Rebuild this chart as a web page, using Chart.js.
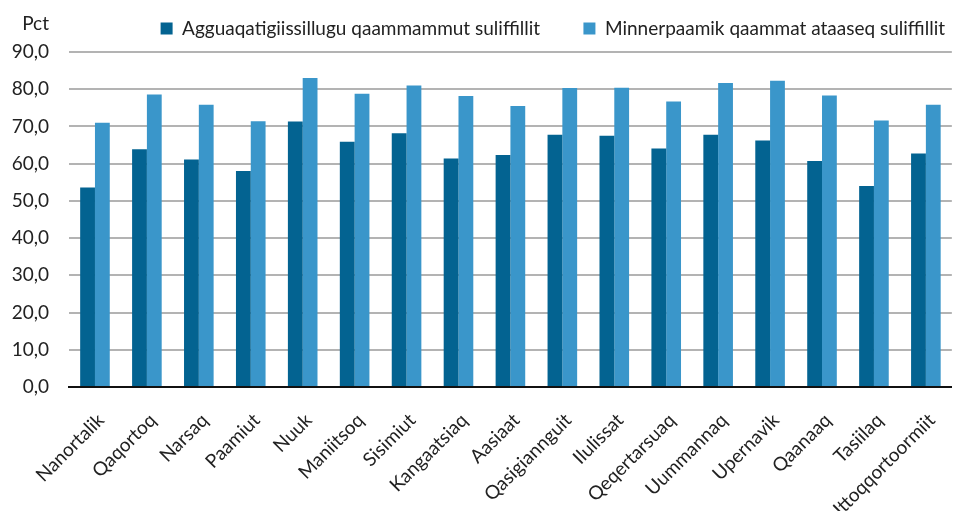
<!DOCTYPE html>
<html>
<head>
<meta charset="utf-8">
<script src="https://cdn.jsdelivr.net/npm/chart.js@4"></script>
<style>
  html, body { margin: 0; padding: 0; background: #fff; }
  #wrap { width: 964px; height: 511px; }
</style>
</head>
<body>
<div id="wrap"><canvas id="graph" width="964" height="511"></canvas></div>
<script>
// Towns (categories)
const towns = ['Nanortalik', 'Qaqortoq', 'Narsaq', 'Paamiut', 'Nuuk', 'Maniitsoq', 'Sisimiut',
  'Kangaatsiaq', 'Aasiaat', 'Qasigiannguit', 'Ilulissat', 'Qeqertarsuaq', 'Uummannaq',
  'Upernavik', 'Qaanaaq', 'Tasiilaq', 'Ittoqqortoormiit'];

// Average monthly employed, pct
const avgMonthly = [53.6, 63.9, 61.1, 58.0, 71.3, 65.9, 68.2, 61.4, 62.3, 67.8, 67.5, 64.1, 67.8, 66.2, 60.7, 54.0, 62.7];
// At least one month employed, pct
const minOneMonth = [71.0, 78.6, 75.8, 71.4, 83.0, 78.8, 81.0, 78.2, 75.5, 80.3, 80.4, 76.7, 81.7, 82.3, 78.3, 71.6, 75.8];

const seriesNames = ['Agguaqatigiissillugu qaammammut suliffillit', 'Minnerpaamik qaammat ataaseq suliffillit'];
const yTicks = [0, 10, 20, 30, 40, 50, 60, 70, 80, 90];
const unitLabel = 'Pct';

const fontFam = 'Lato, "Open Sans", sans-serif';

const unitPlugin = {
  id: 'unitLabel',
  afterInit(chart) {
    // a bit more room under the legend
    const fit = chart.legend.fit;
    chart.legend.fit = function () { fit.call(this); this.height += 4; };
  },
  afterDraw(chart) {
    const c = chart.ctx;
    c.save();
    c.font = '19px ' + fontFam;
    c.fillStyle = '#222';
    c.textAlign = 'right';
    c.textBaseline = 'middle';
    c.fillText(unitLabel, 49, 24);
    c.restore();
  }
};

const ctx = document.getElementById('graph').getContext('2d');
new Chart(ctx, {
  type: 'bar',
  data: {
    labels: towns,
    datasets: [{
      label: seriesNames[0],
      data: avgMonthly,
      backgroundColor: '#036391',
      borderWidth: 0
    }, {
      label: seriesNames[1],
      data: minOneMonth,
      backgroundColor: '#3a96ca',
      borderWidth: 0
    }]
  },
  options: {
    responsive: false,
    animation: false,
    layout: { padding: { top: 0, right: 0, left: 0, bottom: 0 } },
    plugins: {
      tooltip: { enabled: false },
      legend: {
        position: 'top',
        align: 'end',
        labels: {
          boxWidth: 12,
          boxHeight: 12,
          padding: 19,
          color: '#222',
          font: { family: fontFam, size: 19 },
          generateLabels(chart) {
            const items = Chart.defaults.plugins.legend.labels.generateLabels(chart);
            // widen gap between the two entries like the original
            items[0].text += '     ';
            return items;
          }
        }
      }
    },
    datasets: { bar: { categoryPercentage: 0.57, barPercentage: 1.0 } },
    scales: {
      x: {
        grid: { display: false, drawTicks: false },
        border: { color: '#111', width: 2 },
        ticks: {
          color: '#222',
          font: { family: fontFam, size: 19 },
          maxRotation: 45, minRotation: 45,
          autoSkip: false,
          labelOffset: 6,
          padding: 22
        },
        afterFit(s) { s.height = 124; }
      },
      y: {
        min: 0, max: 90,
        afterBuildTicks(s) { s.ticks = yTicks.map(v => ({ value: v })); },
        grid: { color: '#b3b3b3', lineWidth: 2, drawTicks: false },
        border: { display: false },
        ticks: {
          color: '#222',
          padding: 20,
          font: { family: fontFam, size: 19 },
          callback: v => v.toFixed(1).replace('.', ',')
        },
        afterFit(s) { s.width = 69; }
      }
    }
  },
  plugins: [unitPlugin]
});
</script>
</body>
</html>
